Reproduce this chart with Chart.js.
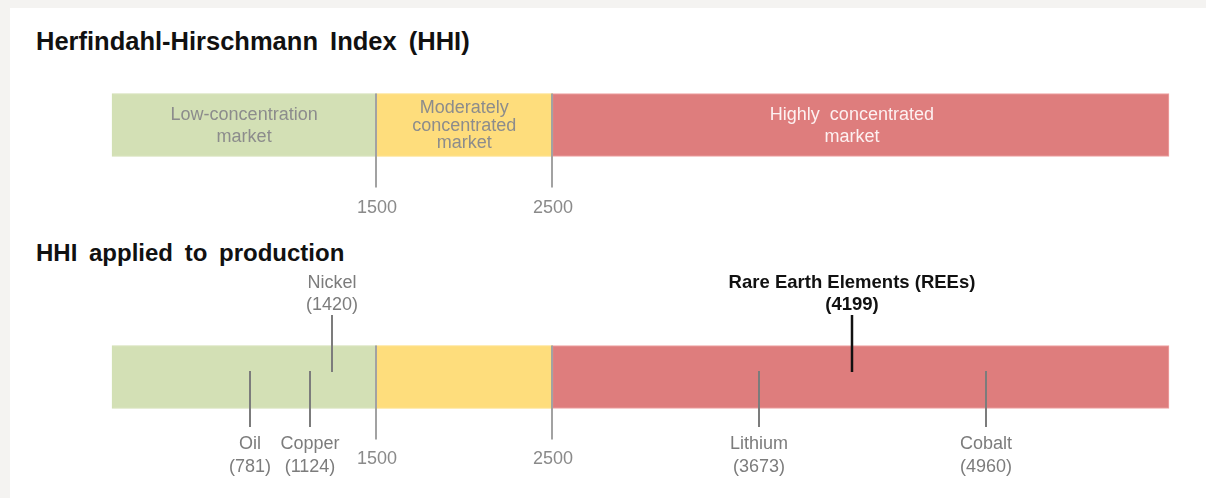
<!DOCTYPE html>
<html lang="en">
<head>
<meta charset="UTF-8">
<title>Herfindahl-Hirschmann Index (HHI)</title>
<script src="https://cdn.jsdelivr.net/npm/chart.js"></script>
<style>
    html, body {
        margin: 0;
        padding: 0;
    }

    body {
        width: 1206px;
        height: 498px;
        overflow: hidden;
        position: relative;
        background: #f4f3f1;
        font-family: "Liberation Sans", Arial, sans-serif;
    }

    /* white card, light grey strip along top and left */
    .card {
        position: absolute;
        left: 10px;
        top: 8px;
        right: 0;
        bottom: 0;
        background: #fff;
    }

    .title {
        position: absolute;
        left: 36px;
        font-weight: bold;
        color: #111;
        word-spacing: 5px;
        white-space: nowrap;
    }

    #t1 { top: 29px; font-size: 25.5px; line-height: 25.5px; }
    #t2 { top: 241px; font-size: 24px; line-height: 24px; }

    #hhiChart {
        position: absolute;
        left: 0;
        top: 0;
    }
</style>
</head>
<body>

<div class="card"></div>
<div class="title" id="t1">Herfindahl-Hirschmann Index (HHI)</div>
<div class="title" id="t2">HHI applied to production</div>
<canvas id="hhiChart" width="1206" height="498"></canvas>

<script>
    // two rows: the reference scale and the same scale with commodities on it
    const rows = ['HHI', 'HHI applied to production'];

    // concentration zones
    const zoneStart = [0, 1500, 2500];
    const zoneEnd = [1500, 2500, 6000];
    const zoneLines = [
        ['Low-concentration', 'market'],
        ['Moderately', 'concentrated', 'market'],
        ['Highly  concentrated', 'market']
    ];
    const zoneLabelAt = [750, 2000, 4200];
    const thresholds = [1500, 2500];

    // commodities
    const commodities = ['Oil', 'Copper', 'Nickel', 'Lithium', 'Rare Earth Elements (REEs)', 'Cobalt'];
    const hhiValues = [781, 1124, 1420, 3673, 4199, 4960];
    // where each tick sits in the source graphic (nickel is drawn left of its value)
    const tickAt = [781, 1124, 1250, 3673, 4199, 4960];
    const labelAbove = [false, false, true, false, true, false];
    const highlight = [false, false, false, false, true, false];

    const zoneColors = ['#d3e0b5', '#fedd7c', '#de7d7d'];
    const zoneBorders = ['#d3e0b5', '#fedd7c', '#f0a4a4'];
    const zoneTextColors = ['#8c8c8c', '#8c8c8c', '#fdf1f1'];

    const FONT = '"Liberation Sans", Arial, sans-serif';

    function drawLines(ctx, lines, x, y, lineHeight) {
        lines.forEach((line, i) => ctx.fillText(line, x, y + i * lineHeight));
    }

    const annotations = {
        id: 'annotations',
        afterDatasetsDraw(chart) {
            const ctx = chart.ctx;
            const xs = chart.scales.x;
            const ys = chart.scales.y;
            const topRow = ys.getPixelForValue(0);
            const prodRow = ys.getPixelForValue(1);
            const half = 31.5;

            ctx.save();
            ctx.textAlign = 'center';
            ctx.textBaseline = 'middle';

            // zone names inside the top band
            ctx.font = '18px ' + FONT;
            zoneLines.forEach((lines, i) => {
                ctx.fillStyle = zoneTextColors[i];
                const lh = lines.length > 2 ? 17.5 : 22;
                const y0 = topRow + 1 - (lines.length - 1) * lh / 2;
                drawLines(ctx, lines, xs.getPixelForValue(zoneLabelAt[i]), y0, lh);
            });

            // threshold lines and labels, both rows
            ctx.strokeStyle = '#a2a2a2';
            ctx.lineWidth = 2;
            ctx.fillStyle = '#8a8a8a';
            [[topRow, 83], [prodRow, 82]].forEach(([row, lab]) => {
                thresholds.forEach(t => {
                    const px = Math.round(xs.getPixelForValue(t));
                    ctx.beginPath();
                    ctx.moveTo(px, row - half);
                    ctx.lineTo(px, row + half + 31);
                    ctx.stroke();
                    ctx.fillText(String(t), px + 1, row + lab);
                });
            });

            // commodity ticks
            commodities.forEach((name, i) => {
                const px = Math.round(xs.getPixelForValue(tickAt[i]));
                ctx.strokeStyle = highlight[i] ? '#111' : '#7c7c7c';
                ctx.fillStyle = highlight[i] ? '#111' : '#7c7c7c';
                ctx.lineWidth = highlight[i] ? 2.5 : 2;
                ctx.font = (highlight[i] ? 'bold 18.5px ' : '18px ') + FONT;
                const lines = [name, '(' + hhiValues[i] + ')'];
                ctx.beginPath();
                if (labelAbove[i]) {
                    ctx.moveTo(px, prodRow - 62);
                    ctx.lineTo(px, prodRow - 5);
                    ctx.stroke();
                    drawLines(ctx, lines, px, prodRow - 94, 22);
                } else {
                    ctx.moveTo(px, prodRow - 6);
                    ctx.lineTo(px, prodRow + 50);
                    ctx.stroke();
                    drawLines(ctx, lines, px, prodRow + 67, 23);
                }
            });

            ctx.restore();
        }
    };

    const datasets = zoneStart.map((s, i) => ({
        label: zoneLines[i].join(' '),
        data: rows.map(() => [s, zoneEnd[i]]),
        backgroundColor: zoneColors[i],
        borderColor: zoneBorders[i],
        borderWidth: 1,
        borderSkipped: false,
        barThickness: 63,
        grouped: false,
        clip: false
    }));

    new Chart(document.getElementById('hhiChart').getContext('2d'), {
        type: 'bar',
        data: { labels: rows, datasets: datasets },
        options: {
            indexAxis: 'y',
            responsive: false,
            animation: false,
            layout: { padding: { left: 112, right: 37, top: 125, bottom: 121 } },
            scales: {
                x: { type: 'linear', min: 0, max: 6000, display: false },
                y: { display: false, offset: false }
            },
            plugins: {
                legend: { display: false },
                tooltip: { enabled: false }
            }
        },
        plugins: [annotations]
    });
</script>

</body>
</html>
